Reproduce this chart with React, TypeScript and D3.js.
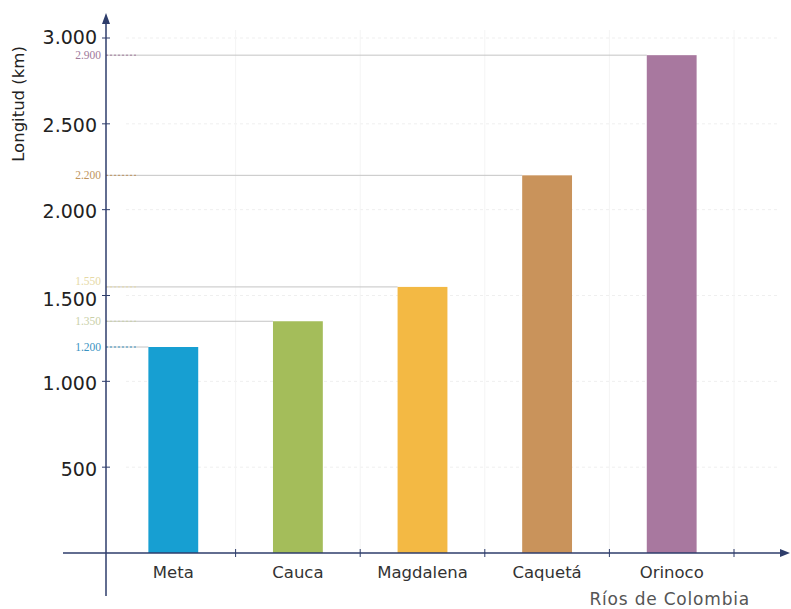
import React from "react";
import * as d3 from "d3";

const rivers = ["Meta", "Cauca", "Magdalena", "Caquetá", "Orinoco"];
const lengths = [1200, 1350, 1550, 2200, 2900];
const colors = ["#179fd2", "#a4bd5a", "#f3b944", "#c9935b", "#a8789f"];
const labelColors = ["#3a93c2", "#c9cfa8", "#e6d9a6", "#c09560", "#a07a9c"];
const yTicks = [500, 1000, 1500, 2000, 2500, 3000];

const W = 791;
const H = 609;
const axisColor = "#2e3d6b";

export default function App() {
  const x = d3.scaleBand<string>().domain(rivers).range([111, 734]).paddingInner(0.6).paddingOuter(0.3);
  const band = d3.scaleBand<string>().domain(rivers).range([111, 734]);
  const y = d3.scaleLinear().domain([0, 3000]).range([553, 38]);
  const fmt = (v: number) => d3.format(",")(v).replace(/,/g, ".");
  const x0 = 106;

  return (
    <svg width={W} height={H} style={{ position: "absolute", left: 0, top: 0, background: "#fff" }}>
      {/* faint grid */}
      {yTicks.map((t) => (
        <line key={"g" + t} x1={x0 + 20} x2={780} y1={y(t)} y2={y(t)} stroke="#efefef" strokeDasharray="3,3" />
      ))}
      {rivers.map((r) => (
        <line key={"gv" + r} x1={(band(r) as number) + band.bandwidth()} x2={(band(r) as number) + band.bandwidth()} y1={30} y2={553} stroke="#f4f4f4" />
      ))}
      {/* reference lines */}
      {rivers.map((r, i) => (
        <g key={"ref" + r}>
          <line x1={x0} x2={x(r) as number} y1={y(lengths[i])} y2={y(lengths[i])} stroke="#c4c4c4" strokeWidth={1} />
          <line x1={x0} x2={x0 + 30} y1={y(lengths[i])} y2={y(lengths[i])} stroke={labelColors[i]} strokeWidth={1} strokeDasharray="2,2" />
          <text x={x0 - 5} y={y(lengths[i])} dy={lengths[i] === 1550 ? "-0.2em" : "0.35em"} textAnchor="end" fontFamily="Liberation Serif, serif" fontSize={11.5} fill={labelColors[i]}>
            {fmt(lengths[i])}
          </text>
        </g>
      ))}
      {/* bars */}
      {rivers.map((r, i) => (
        <rect key={r} x={x(r) as number} width={x.bandwidth()} y={y(lengths[i])} height={y(0) - y(lengths[i])} fill={colors[i]} />
      ))}
      {/* x axis */}
      <line x1={63} x2={783} y1={y(0)} y2={y(0)} stroke={axisColor} strokeWidth={1.5} />
      <path d={`M790,${y(0)} L780,${y(0) - 4} L780,${y(0) + 4} Z`} fill={axisColor} />
      {rivers.map((r) => {
        const tx = (band(r) as number) + band.bandwidth();
        return <line key={"xt" + r} x1={tx} x2={tx} y1={y(0) - 4} y2={y(0) + 4} stroke={axisColor} />;
      })}
      {rivers.map((r) => (
        <text key={"xl" + r} x={(x(r) as number) + x.bandwidth() / 2} y={578} textAnchor="middle" fontFamily="DejaVu Sans, sans-serif" fontSize={16.5} fill="#333">
          {r}
        </text>
      ))}
      <text x={750} y={605} textAnchor="end" fontFamily="DejaVu Sans, sans-serif" fontSize={17} letterSpacing={0.8} fill="#555">
        Ríos de Colombia
      </text>
      {/* y axis */}
      <line x1={x0} x2={x0} y1={22} y2={596} stroke={axisColor} strokeWidth={1.5} />
      <path d={`M${x0},13 L${x0 - 4},24 L${x0 + 4},24 Z`} fill={axisColor} />
      {yTicks.map((t) => (
        <g key={"yt" + t}>
          <line x1={x0 - 4} x2={x0 + 4} y1={y(t)} y2={y(t)} stroke={axisColor} />
          <text x={x0 - 9} y={y(t) + (t === 3000 ? -1 : t === 1500 ? 4 : 2)} dy="0.35em" textAnchor="end" fontFamily="DejaVu Sans, sans-serif" fontSize={19} fill="#222">
            {fmt(t)}
          </text>
        </g>
      ))}
      <text transform={`translate(24,104) rotate(-90)`} textAnchor="middle" fontFamily="DejaVu Sans, sans-serif" fontSize={16.5} fill="#222">
        Longitud (km)
      </text>
    </svg>
  );
}
